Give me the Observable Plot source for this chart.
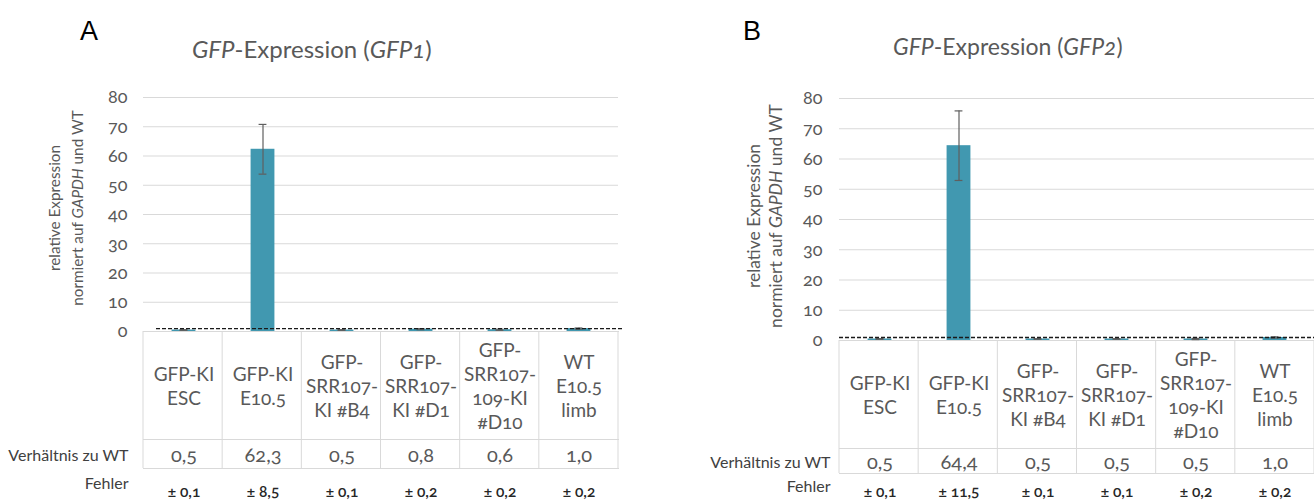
<!DOCTYPE html>
<html>
<head>
<meta charset="utf-8">
<script src="https://cdn.jsdelivr.net/npm/d3@7"></script>
<script src="https://cdn.jsdelivr.net/npm/@observablehq/plot@0.6"></script>
<style>
html, body { margin: 0; padding: 0; background: #fff; }
#wrap { position: relative; width: 1314px; height: 500px; overflow: hidden; }
.panel { position: absolute; top: 0; }
svg, svg text { font-feature-settings: "onum" 1; font-variant-numeric: oldstyle-nums; }
</style>
</head>
<body>
<div id="wrap"></div>
<script>
// ---------- data ----------
const categories = ["GFP-KI ESC", "GFP-KI E10.5", "GFP-SRR107-KI #B4", "GFP-SRR107-KI #D1", "GFP-SRR107-109-KI #D10", "WT E10.5 limb"];
const categoryLines = ["GFP-KI\nESC", "GFP-KI\nE10.5", "GFP-\nSRR107-\nKI #B4", "GFP-\nSRR107-\nKI #D1", "GFP-\nSRR107-\n109-KI\n#D10", "WT\nE10.5\nlimb"];
const gfp1Values = [0.5, 62.3, 0.5, 0.8, 0.6, 1.0];
const gfp1Errors = [0.1, 8.5, 0.1, 0.2, 0.2, 0.2];
const gfp2Values = [0.5, 64.4, 0.5, 0.5, 0.5, 1.0];
const gfp2Errors = [0.1, 11.5, 0.1, 0.1, 0.2, 0.2];
const yTicks = [0, 10, 20, 30, 40, 50, 60, 70, 80];
const wtLevel = [1];
const panelLetters = ["A", "B"];
const titleGenes = ["GFP1", "GFP2"];
const rowLabels = ["Verhältnis zu WT", "Fehler"];
const yLabelLine1 = "relative Expression";
const yLabelLine2 = ["normiert auf ", "GAPDH", " und WT"];

// ---------- style / layout ----------
const FONT = "Lato, 'Noto Sans', 'Open Sans', sans-serif";
const TEXT = "#595959";
const BAR = "#4198b0";
const GRID = "#d9d9d9";
const fmt = v => d3.format(".1f")(v).replace(".", ",");

const layouts = [
  {left: 0, width: 657, marginLeft: 143, marginRight: 39, marginTop: 97, marginBottom: 169, tickPad: 16,
   rowLine: 108, tableBottom: 137, catDy: 54, valDy: 124, fehlerLabelDy: 152, fehlerDy: 161, labelDx: -15,
   letterX: 80, letterY: 40, titleX: 192, titleY: 58, titleSize: 24,
   yLab1X: 54, yLab2X: 77, yLabY: 208, yLabSize: 15.3, catSize: 19, valSize: 20,
   dashInsetLeft: 13, dashInsetRight: -5},
  {left: 657, width: 657, marginLeft: 182, marginRight: 0, marginTop: 98, marginBottom: 160, tickPad: 17,
   rowLine: 108, tableBottom: 133, catDy: 54, valDy: 122, fehlerLabelDy: 146, fehlerDy: 152, labelDx: -9,
   letterX: 86, letterY: 40, titleX: 236, titleY: 55, titleSize: 23,
   yLab1X: 96, yLab2X: 118, yLabY: 216, yLabSize: 17.5, catSize: 19, valSize: 20,
   dashInsetLeft: 0, dashInsetRight: 0}
];
const series = [
  {values: gfp1Values, errors: gfp1Errors},
  {values: gfp2Values, errors: gfp2Errors}
];

const wrap = document.getElementById("wrap");

series.forEach((s, k) => {
  const L = layouts[k];
  const rows = categories.map((c, i) => ({cat: c, label: categoryLines[i], v: s.values[i], e: s.errors[i]}));
  const step = (L.width - L.marginLeft - L.marginRight) / categories.length;
  const barInset = (step - 24) / 2;
  const capInset = (step - 8) / 2;

  const plot = Plot.plot({
    width: L.width,
    height: 500,
    marginLeft: L.marginLeft,
    marginRight: L.marginRight,
    marginTop: L.marginTop,
    marginBottom: L.marginBottom,
    style: {fontFamily: FONT, fontSize: "18px", color: TEXT, background: "transparent", overflow: "visible"},
    x: {domain: categories, padding: 0, axis: null},
    y: {domain: [0, 80], ticks: yTicks, tickSize: 0, tickPadding: L.tickPad, label: null},
    marks: [
      Plot.ruleY(yTicks.filter(t => t > 0), {stroke: GRID, strokeWidth: 1}),
      Plot.barY(rows, {x: "cat", y: "v", fill: BAR, insetLeft: barInset, insetRight: barInset}),
      Plot.ruleX(rows, {x: "cat", y1: d => d.v - d.e, y2: d => d.v + d.e, stroke: "#5f5f5f", strokeWidth: 1.2}),
      Plot.tickY(rows, {x: "cat", y: d => d.v + d.e, stroke: "#5f5f5f", strokeWidth: 1.2, insetLeft: capInset, insetRight: capInset}),
      Plot.tickY(rows, {x: "cat", y: d => d.v - d.e, stroke: "#5f5f5f", strokeWidth: 1.2, insetLeft: capInset, insetRight: capInset}),
      Plot.ruleY(wtLevel, {stroke: "#1a1a1a", strokeWidth: 1.3, strokeDasharray: "4,2", insetLeft: L.dashInsetLeft, insetRight: L.dashInsetRight}),
      Plot.text(rows, {x: "cat", text: "label", frameAnchor: "bottom", dy: L.catDy, lineAnchor: "middle", lineHeight: 1.25, fontSize: L.catSize, fill: TEXT}),
      Plot.text(rows, {x: "cat", text: d => fmt(d.v), frameAnchor: "bottom", dy: L.valDy, lineAnchor: "middle", fontSize: L.valSize, fill: TEXT}),
      Plot.text(rows, {x: "cat", text: d => "± " + fmt(d.e), frameAnchor: "bottom", dy: L.fehlerDy, lineAnchor: "middle", fontSize: 15.5, fontWeight: 600, fill: "#262626"}),
      Plot.text([rowLabels[0]], {text: d => d, frameAnchor: "bottom-left", dx: L.labelDx, dy: L.valDy, lineAnchor: "middle", textAnchor: "end", fontSize: 16, fill: "#404040"}),
      Plot.text([rowLabels[1]], {text: d => d, frameAnchor: "bottom-left", dx: L.labelDx, dy: L.fehlerLabelDy, lineAnchor: "middle", textAnchor: "end", fontSize: 16, fill: "#404040"})
    ]
  });

  // table borders from the x scale
  const sx = plot.scale("x");
  const sy = plot.scale("y");
  const x0 = Math.min(...sx.range), x1 = Math.max(...sx.range);
  const bandStep = (x1 - x0) / sx.domain.length;
  const top = Math.max(...sy.range);
  const svg = d3.select(plot);
  const g = svg.insert("g", "g").attr("stroke", GRID).attr("stroke-width", 1);
  [top, top + L.rowLine, top + L.tableBottom].forEach(yy => {
    g.append("line").attr("x1", x0).attr("x2", x1 + 1).attr("y1", yy + 0.5).attr("y2", yy + 0.5);
  });
  d3.range(sx.domain.length + 1).forEach(i => {
    const xx = x0 + i * bandStep;
    g.append("line").attr("x1", xx).attr("x2", xx).attr("y1", top).attr("y2", top + L.tableBottom);
  });

  // panel letter
  svg.append("text").attr("x", L.letterX).attr("y", L.letterY).attr("text-anchor", "start")
    .attr("font-family", "'Liberation Sans', Arial, sans-serif").attr("font-size", 27).attr("fill", "#000")
    .text(panelLetters[k]);

  // title
  const t = svg.append("text").attr("x", L.titleX).attr("y", L.titleY).attr("text-anchor", "start")
    .attr("font-family", FONT).attr("font-size", L.titleSize).attr("fill", TEXT);
  t.append("tspan").attr("font-style", "italic").text("GFP");
  t.append("tspan").text("-Expression (");
  t.append("tspan").attr("font-style", "italic").text(titleGenes[k]);
  t.append("tspan").text(")");

  // y-axis label (two lines, rotated)
  svg.append("text")
    .attr("transform", `translate(${L.yLab1X},${L.yLabY}) rotate(-90)`)
    .attr("text-anchor", "middle").attr("dominant-baseline", "central")
    .attr("font-family", FONT).attr("font-size", L.yLabSize).attr("fill", TEXT)
    .text(yLabelLine1);
  const yl2 = svg.append("text")
    .attr("transform", `translate(${L.yLab2X},${L.yLabY}) rotate(-90)`)
    .attr("text-anchor", "middle").attr("dominant-baseline", "central")
    .attr("font-family", FONT).attr("font-size", L.yLabSize).attr("fill", TEXT);
  yLabelLine2.forEach((part, i) => {
    const ts = yl2.append("tspan").text(part);
    if (i === 1) ts.attr("font-style", "italic");
  });

  const div = document.createElement("div");
  div.className = "panel";
  div.style.left = L.left + "px";
  div.appendChild(plot);
  wrap.appendChild(div);
});
</script>
</body>
</html>
